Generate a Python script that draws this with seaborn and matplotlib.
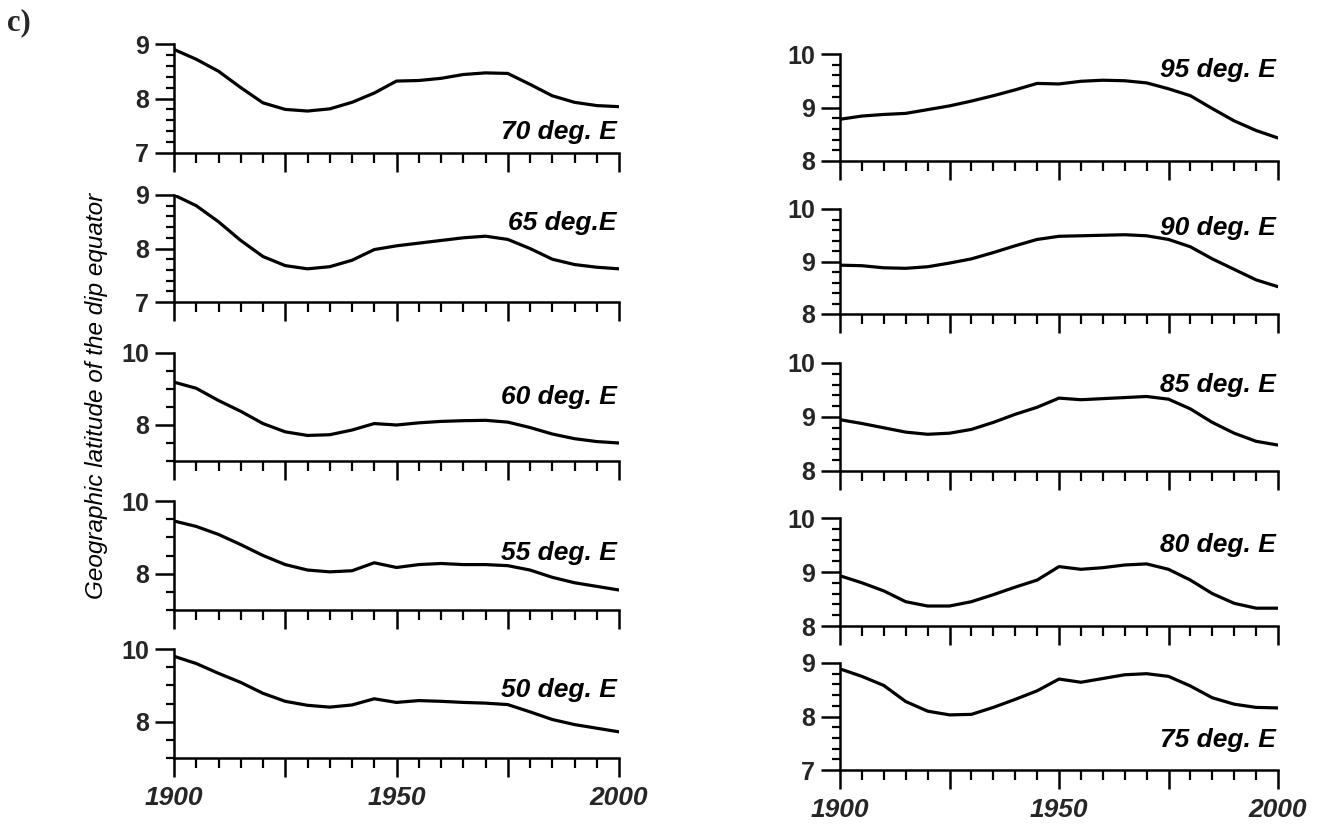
import numpy as np
import pandas as pd
import seaborn as sns
import matplotlib.pyplot as plt
from matplotlib.ticker import MultipleLocator, FixedLocator, FuncFormatter

# Latitude of the dip equator, read every 5 years
years = list(range(1900, 2001, 5))

lat_70E = [8.90, 8.72, 8.50, 8.20, 7.92, 7.80, 7.77, 7.81, 7.93, 8.10, 8.32,
           8.33, 8.37, 8.44, 8.47, 8.46, 8.26, 8.05, 7.93, 7.87, 7.85]
lat_65E = [9.00, 8.80, 8.50, 8.15, 7.85, 7.68, 7.62, 7.66, 7.78, 7.98, 8.05,
           8.10, 8.15, 8.20, 8.23, 8.17, 8.00, 7.80, 7.70, 7.65, 7.62]
lat_60E = [9.19, 9.02, 8.68, 8.38, 8.04, 7.81, 7.71, 7.73, 7.86, 8.04, 8.00,
           8.06, 8.10, 8.12, 8.13, 8.08, 7.93, 7.75, 7.62, 7.54, 7.50]
lat_55E = [9.45, 9.30, 9.08, 8.80, 8.50, 8.25, 8.10, 8.05, 8.08, 8.30, 8.17,
           8.25, 8.28, 8.25, 8.25, 8.22, 8.10, 7.90, 7.75, 7.65, 7.55]
lat_50E = [9.80, 9.60, 9.33, 9.08, 8.78, 8.56, 8.45, 8.40, 8.46, 8.63, 8.53,
           8.58, 8.56, 8.53, 8.51, 8.47, 8.27, 8.06, 7.92, 7.82, 7.72]

lat_95E = [8.78, 8.84, 8.87, 8.89, 8.96, 9.03, 9.12, 9.22, 9.33, 9.45, 9.44,
           9.49, 9.51, 9.50, 9.46, 9.35, 9.22, 8.98, 8.75, 8.57, 8.43]
lat_90E = [8.93, 8.92, 8.88, 8.87, 8.90, 8.97, 9.05, 9.17, 9.30, 9.42, 9.48,
           9.49, 9.50, 9.51, 9.49, 9.42, 9.28, 9.05, 8.85, 8.65, 8.52]
lat_85E = [8.95, 8.88, 8.80, 8.72, 8.68, 8.70, 8.77, 8.90, 9.05, 9.18, 9.35,
           9.32, 9.34, 9.36, 9.38, 9.33, 9.15, 8.90, 8.70, 8.55, 8.48]
lat_80E = [8.93, 8.80, 8.65, 8.45, 8.37, 8.37, 8.45, 8.58, 8.72, 8.85, 9.10,
           9.05, 9.08, 9.13, 9.15, 9.05, 8.85, 8.60, 8.42, 8.33, 8.33]
lat_75E = [8.89, 8.75, 8.58, 8.28, 8.10, 8.03, 8.04, 8.17, 8.32, 8.48, 8.70,
           8.64, 8.71, 8.78, 8.80, 8.75, 8.57, 8.35, 8.23, 8.17, 8.16]

names = ['70 deg. E', '65 deg.E', '60 deg. E', '55 deg. E', '50 deg. E',
         '95 deg. E', '90 deg. E', '85 deg. E', '80 deg. E', '75 deg. E']
series = [lat_70E, lat_65E, lat_60E, lat_55E, lat_50E,
          lat_95E, lat_90E, lat_85E, lat_80E, lat_75E]

# pixel layout of the original (1322 x 824)
W, H = 1322, 824
cols = {0: (174, 619), 1: (840, 1278)}
rows = {0: [(44, 153), (195, 302), (353, 461), (501, 610), (649, 758)],
        1: [(54, 161), (209, 314), (363, 471), (518, 626), (663, 770)]}
ylims = [(7, 9), (7, 9), (7, 10), (7, 10), (7, 10),
         (8, 10), (8, 10), (8, 10), (8, 10), (7, 9)]
label_y = [7.39, 8.48, 8.78, 8.58, 8.88, 9.70, 9.64, 9.59, 9.50, 7.56]

sns.set_theme(style='ticks')
plt.rcParams['font.family'] = ['Liberation Sans', 'DejaVu Sans']
plt.rcParams['axes.edgecolor'] = 'black'
plt.rcParams['axes.linewidth'] = 1.8

fig = plt.figure(figsize=(13.22, 8.24), dpi=100)
fig.patch.set_facecolor('white')

for i, (name, vals) in enumerate(zip(names, series)):
    c, r = divmod(i, 5)
    x0, x1 = cols[c]
    top, bot = rows[c][r]
    ax = fig.add_axes([x0 / W, 1 - bot / H, (x1 - x0) / W, (bot - top) / H])
    df = pd.DataFrame({'year': years, 'lat': vals})
    sns.lineplot(data=df, x='year', y='lat', ax=ax, color='black', lw=2.3)
    sns.despine(ax=ax)
    ax.set_facecolor('white')
    ax.set_xlim(1900, 2000)
    lo, hi = ylims[i]
    ax.set_ylim(lo, hi)
    ax.set_xlabel('')
    ax.set_ylabel('')

    # y ticks
    if hi - lo == 3:
        ax.yaxis.set_major_locator(FixedLocator([8, 10]))
        ax.yaxis.set_minor_locator(FixedLocator([7, 7.5, 8.5, 9, 9.5]))
    else:
        ax.yaxis.set_major_locator(MultipleLocator(1))
        ax.yaxis.set_minor_locator(MultipleLocator(0.2))
    ax.yaxis.set_major_formatter(FuncFormatter(lambda v, p: '%d' % v))
    ax.tick_params(axis='y', which='major', direction='out', length=14,
                   width=1.8, pad=4, labelsize=18, color='black')
    ax.tick_params(axis='y', which='minor', direction='out', length=5.5,
                   width=1.6, color='black')
    for t in ax.get_yticklabels():
        t.set_fontweight('bold')

    # x ticks
    ax.xaxis.set_major_locator(MultipleLocator(25))
    ax.xaxis.set_minor_locator(MultipleLocator(5))
    ax.tick_params(axis='x', which='major', direction='out', length=14,
                   width=1.8, pad=6, labelsize=19, color='black')
    ax.tick_params(axis='x', which='minor', direction='out', length=7,
                   width=1.6, color='black')
    if r == 4:
        ax.xaxis.set_major_formatter(
            FuncFormatter(lambda v, p: '%d' % v if v in (1900, 1950, 2000) else ''))
        for t in ax.get_xticklabels():
            t.set_fontweight('bold')
            t.set_fontstyle('italic')
    else:
        ax.tick_params(axis='x', labelbottom=False)

    ax.text(1999.5, label_y[i], name, ha='right', va='center', fontsize=19,
            fontweight='bold', fontstyle='italic', color='black')

fig.text(0.073, 0.519, 'Geographic latitude of the dip equator', rotation=90,
         ha='center', va='center', fontsize=17.5, fontstyle='italic', color='black')
fig.text(0.005, 1 - 8 / H, 'c)', ha='left', va='top', fontsize=22,
         fontweight='bold', family=['Liberation Serif', 'DejaVu Serif'])

fig.savefig('out.png', dpi=100, facecolor='white')
